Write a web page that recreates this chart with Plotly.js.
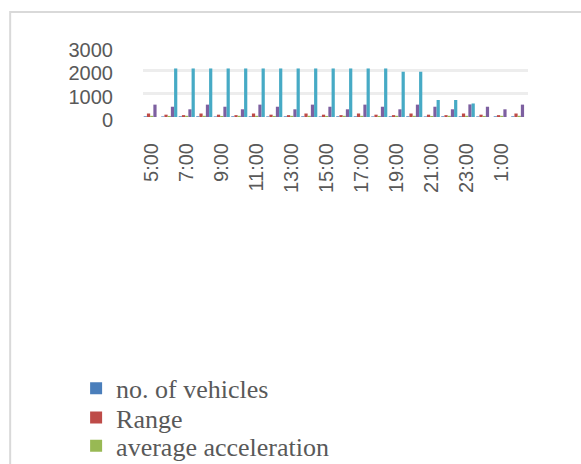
<!DOCTYPE html>
<html>
<head>
<meta charset="utf-8">
<script src="https://cdn.plot.ly/plotly-3.0.1.min.js"></script>
<style>html,body{margin:0;padding:0;background:#fff;}#chart{width:581px;height:464px;}</style>
</head>
<body>
<div id="chart"></div>
<script>
// Hours (categories)
var hours = ["5:00","6:00","7:00","8:00","9:00","10:00","11:00","12:00","13:00","14:00","15:00","16:00","17:00","18:00","19:00","20:00","21:00","22:00","23:00","0:00","1:00","2:00"];
var tickLabels = ["5:00","7:00","9:00","11:00","13:00","15:00","17:00","19:00","21:00","23:00","1:00"];
var yTicks = [0, 1000, 2000, 3000];

// Series
var noOfVehicles = [30,25,30,30,25,30,30,25,30,30,25,30,30,25,30,30,25,30,30,25,30,30];
var rangeVals    = [150,100,80,150,100,80,150,100,80,150,100,80,150,100,80,150,100,80,150,100,80,150];
var avgAccel     = [50,45,50,50,45,50,50,45,50,50,45,50,50,45,50,50,45,50,50,45,50,50];
var series4      = [530,440,330,530,440,330,530,440,330,530,440,330,530,440,330,530,440,330,540,440,330,530];
var series5      = [null,2080,2080,2080,2080,2080,2080,2080,2080,2080,2080,2080,2080,2080,1940,1940,730,730,580,null,null,null];

var names = ["no. of vehicles","Range","average acceleration","average speed","flow"];
var colors = ["#4A7EBB","#BE4B48","#98B954","#7D60A0","#46AAC5"];
var values = [noOfVehicles, rangeVals, avgAccel, series4, series5];
var legendIds = ["legend","legend2","legend3"];

var traces = values.map(function(v, i){
  var t = {
    type: "bar",
    x: hours,
    y: v,
    name: names[i],
    marker: {color: colors[i]},
    showlegend: i < 3
  };
  if (i < 3) t.legend = legendIds[i];
  return t;
});

var legendFont = {family: "Liberation Serif, Times New Roman, serif", size: 26, color: "#595959"};
function mkLegend(yc){
  return {
    xref: "container", yref: "container",
    x: 0.131, y: yc,
    xanchor: "left", yanchor: "middle",
    font: legendFont,
    bgcolor: "rgba(0,0,0,0)",
    borderwidth: 0
  };
}

var layout = {
  width: 581,
  height: 464,
  margin: {l: 143, r: 53, t: 47, b: 347, autoexpand: false},
  paper_bgcolor: "#ffffff",
  plot_bgcolor: "#ffffff",
  barmode: "group",
  bargap: 0.08,
  bargroupgap: 0,
  font: {family: "Liberation Sans, Arial, sans-serif", color: "#595959"},
  xaxis: {
    type: "category",
    tickmode: "array",
    tickvals: tickLabels,
    ticktext: tickLabels,
    tickangle: -90,
    tickfont: {size: 20, color: "#595959"},
    ticks: "outside",
    ticklen: 17,
    tickcolor: "rgba(0,0,0,0)",
    showgrid: false,
    showline: false,
    zeroline: false,
    automargin: false
  },
  yaxis: {
    range: [0, 3000],
    tickmode: "array",
    tickvals: yTicks,
    ticktext: yTicks.map(String),
    tickfont: {size: 20, color: "#595959"},
    ticks: "outside",
    ticklen: 25,
    tickcolor: "rgba(0,0,0,0)",
    ticklabelshift: 3,
    showgrid: true,
    gridcolor: "#EDEDED",
    gridwidth: 3,
    zeroline: false,
    showline: false,
    automargin: false
  },
  legend: mkLegend(0.163),
  legend2: mkLegend(0.1),
  legend3: mkLegend(0.039),
  shapes: [{
    type: "rect",
    xref: "paper", yref: "paper",
    x0: -0.345, x1: 1.2,
    y0: -5.2, y1: 1.5,
    line: {color: "#D9D9D9", width: 2},
    fillcolor: "rgba(0,0,0,0)",
    layer: "below"
  }]
};

Plotly.newPlot("chart", traces, layout, {displayModeBar: false, staticPlot: true});
</script>
</body>
</html>
